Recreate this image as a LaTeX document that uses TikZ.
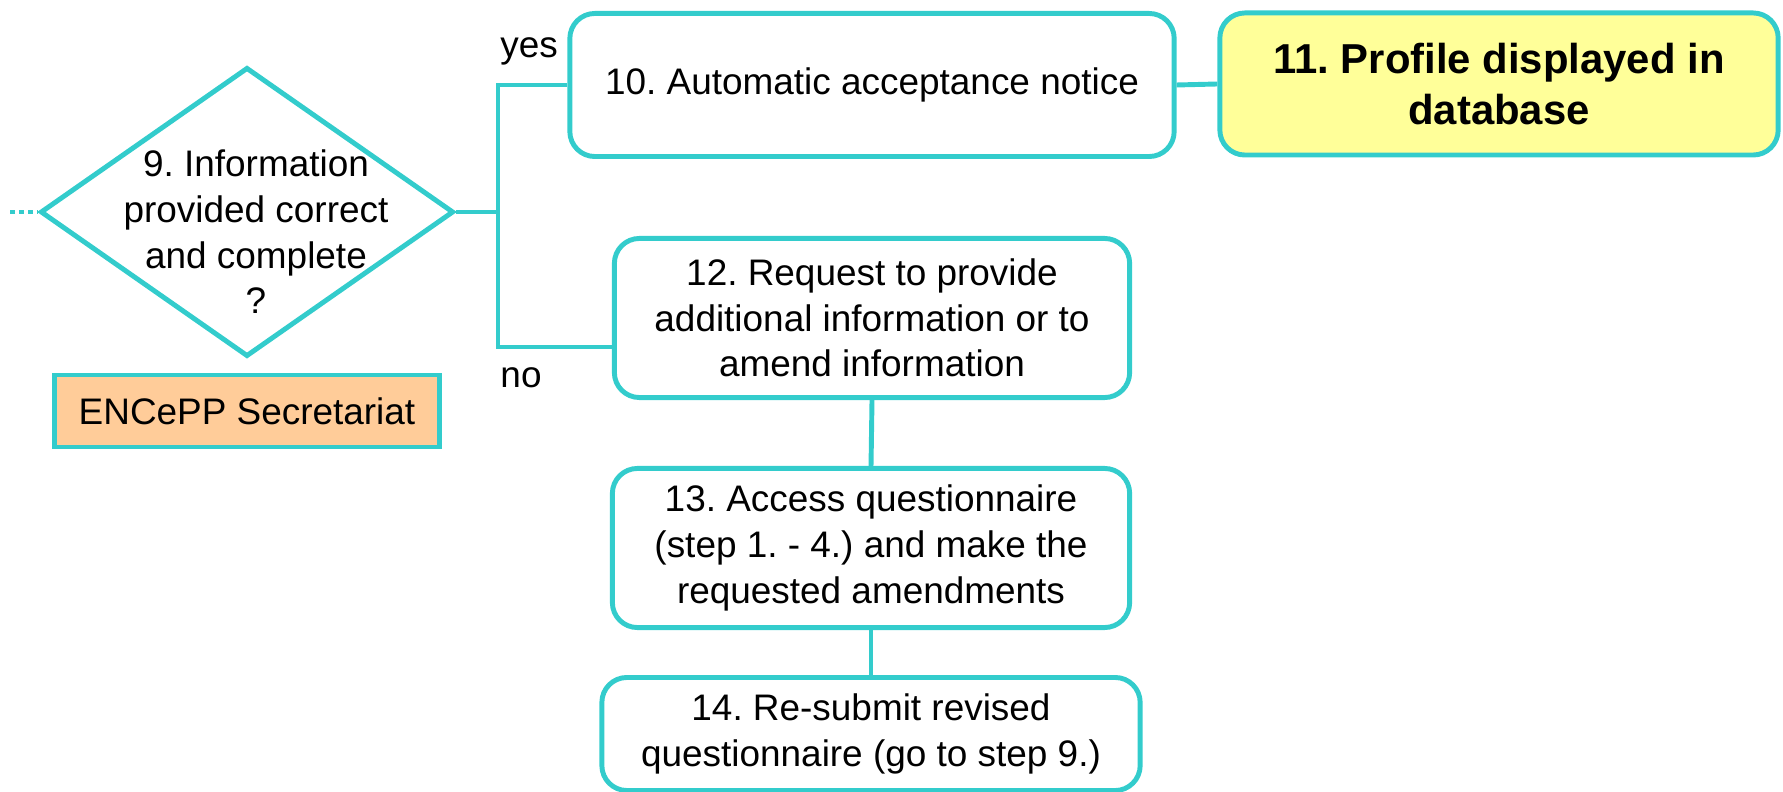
\documentclass[tikz,border=0pt]{standalone}
\usepackage{fontspec}
\setmainfont{Liberation Sans}
\usetikzlibrary{shapes.geometric}
\definecolor{flowline}{RGB}{51,204,204}
\definecolor{profilefill}{RGB}{255,255,153}
\definecolor{secfill}{RGB}{255,204,153}
\frenchspacing
\begin{document}
\begin{tikzpicture}[x=0.01cm,y=-0.01cm,line width=1.4pt,
		font=\fontsize{10.5}{13}\selectfont,
		stepbox/.style={draw=flowline,rounded corners=0.25cm,align=center,inner sep=0pt},
		link/.style={draw=flowline}]

			\useasboundingbox (0,0) rectangle (1783,792);

			\node [draw=flowline,diamond,minimum width=4.13cm,minimum height=2.89cm,inner sep=0pt] (check) at (247,212) {};
			\node [align=center,inner sep=0pt] (checktext) at (256,232) {9. Information\\provided correct\\and complete\\?};
			\node [draw=flowline,fill=secfill,minimum width=3.85cm,minimum height=0.72cm,inner sep=0pt] (secretariat) at (247,411) {ENCePP Secretariat};

			\node [stepbox,minimum width=6.04cm,minimum height=1.43cm] (accept) at (872,85) {10. Automatic acceptance notice};
			\node [stepbox,fill=profilefill,minimum width=5.58cm,minimum height=1.42cm,font=\fontsize{11.9}{14.5}\selectfont\bfseries] (profile) at (1499,84) {11. Profile displayed in\\database};
			\node [stepbox,minimum width=5.15cm,minimum height=1.59cm] (request) at (872,318) {12. Request to provide\\additional information or to\\amend information};
			\node [stepbox,minimum width=5.17cm,minimum height=1.59cm] (amend) at (871,548) {13. Access questionnaire\\(step 1. - 4.) and make the\\requested amendments};
			\node [stepbox,minimum width=5.38cm,minimum height=1.13cm] (resubmit) at (871,734) {14. Re-submit revised\\questionnaire (go to step 9.)};

			\node [anchor=base west,inner sep=0pt] (yes) at (498,58) {yes};
			\node [anchor=base west,inner sep=0pt] (no) at (498,388) {no};

			\coordinate (prev) at (10,212);
			\coordinate (split) at (498,212);
			\coordinate (nojoin) at (request.west |- 0,347);

			\draw [link,dash pattern=on 0.05cm off 0.04cm] (prev) -- (check.west);
			\draw [link] (check.east) -- (split);
			\draw [link] (accept.west) -| (split) |- (nojoin);
			\draw [link] (accept.east) -- (profile.west);
			\draw [link] (request.south) -- (amend.north);
			\draw [link] (amend.south) -- (resubmit.north);
		\end{tikzpicture}
\end{document}
